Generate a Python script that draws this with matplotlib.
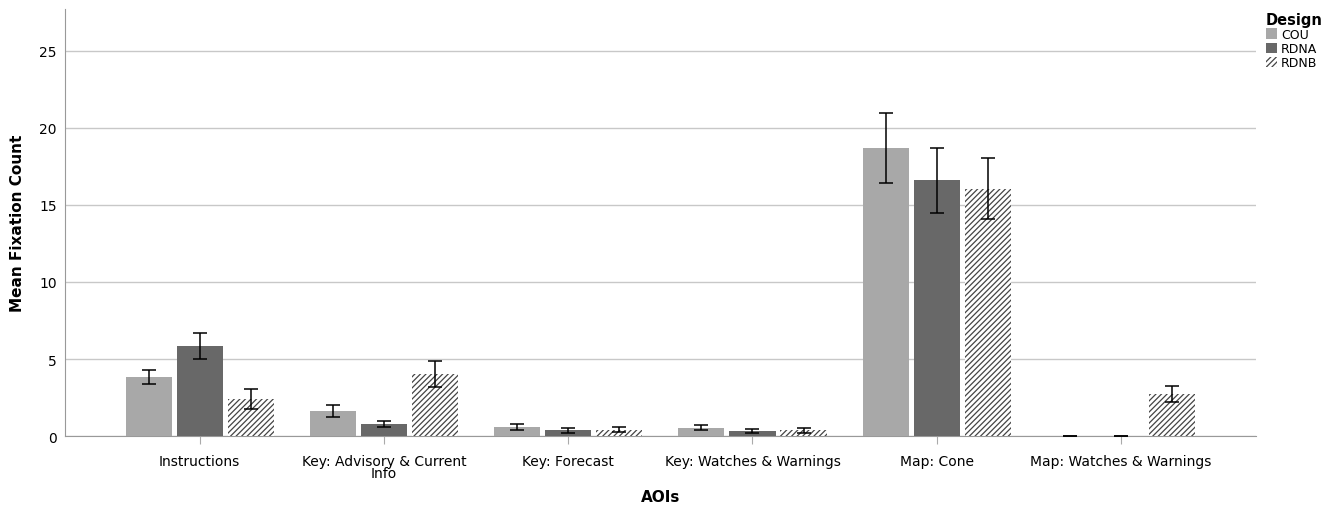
import matplotlib
matplotlib.use("Agg")
import matplotlib.pyplot as plt
import numpy as np
from matplotlib.patches import Patch

plt.rcParams['font.family'] = ['DejaVu Sans']
plt.rcParams['hatch.color'] = '#444444'
plt.rcParams['hatch.linewidth'] = 0.9

categories = ["Instructions", "Key: Advisory & Current\nInfo", "Key: Forecast",
              "Key: Watches & Warnings", "Map: Cone", "Map: Watches & Warnings"]
designs = ["COU", "RDNA", "RDNB"]
cou = [3.83, 1.62, 0.60, 0.55, 18.7, 0.0]
cou_err = [0.45, 0.40, 0.20, 0.18, 2.27, 0.0]
rdna = [5.84, 0.80, 0.38, 0.35, 16.6, 0.0]
rdna_err = [0.87, 0.20, 0.15, 0.13, 2.12, 0.0]
rdnb = [2.42, 4.03, 0.42, 0.38, 16.05, 2.73]
rdnb_err = [0.65, 0.85, 0.15, 0.15, 1.97, 0.52]
yticks = [0, 5, 10, 15, 20, 25]

fig = plt.figure(figsize=(13.3, 5.1), dpi=100)
ax = fig.add_axes([0.049, 0.143, 0.895, 0.837])

x = np.arange(len(categories))
w = 0.25
step = 0.277
ekw = dict(ecolor='black', elinewidth=1.1, capsize=5, capthick=1.1)
ax.bar(x - step, cou, w, color='#a8a8a8', yerr=cou_err, error_kw=ekw, zorder=3)
ax.bar(x, rdna, w, color='#686868', yerr=rdna_err, error_kw=ekw, zorder=3)
ax.bar(x + step, rdnb, w, color='white', hatch='//////', edgecolor='#444444',
       linewidth=0, yerr=rdnb_err, error_kw=ekw, zorder=3)

ax.set_xlim(-0.73, len(categories) - 1 + 0.73)
ax.set_ylim(0, 27.7)
ax.set_yticks(yticks)
ax.set_xticks(x)
ax.set_xticklabels(categories, fontsize=10, linespacing=0.85)
ax.tick_params(axis='y', length=0, labelsize=10, pad=6)
ax.tick_params(axis='x', length=6, color='#aaaaaa', pad=7)
ax.yaxis.grid(True, color='#c8c8c8', linewidth=1.0, zorder=0)
ax.set_axisbelow(True)
for s in ['top', 'right']:
    ax.spines[s].set_visible(False)
ax.spines['left'].set_color('#999999')
ax.spines['bottom'].set_color('#999999')

ax.set_xlabel("AOIs", fontsize=11, fontweight='bold', labelpad=6)
ax.set_ylabel("Mean Fixation Count", fontsize=11, fontweight='bold', labelpad=10)

handles = [Patch(facecolor='#a8a8a8'), Patch(facecolor='#686868'),
           Patch(facecolor='white', hatch='//////', edgecolor='#444444', linewidth=0)]
leg = fig.legend(handles, designs, title="Design", loc='upper left',
                 bbox_to_anchor=(0.948, 0.985), frameon=False, fontsize=9,
                 title_fontsize=10.5, handlelength=0.9, handleheight=0.9,
                 handletextpad=0.3, labelspacing=0.1, borderaxespad=0)
leg.get_title().set_fontweight('bold')
leg._legend_box.align = "left"

fig.savefig("out.png", dpi=100)
